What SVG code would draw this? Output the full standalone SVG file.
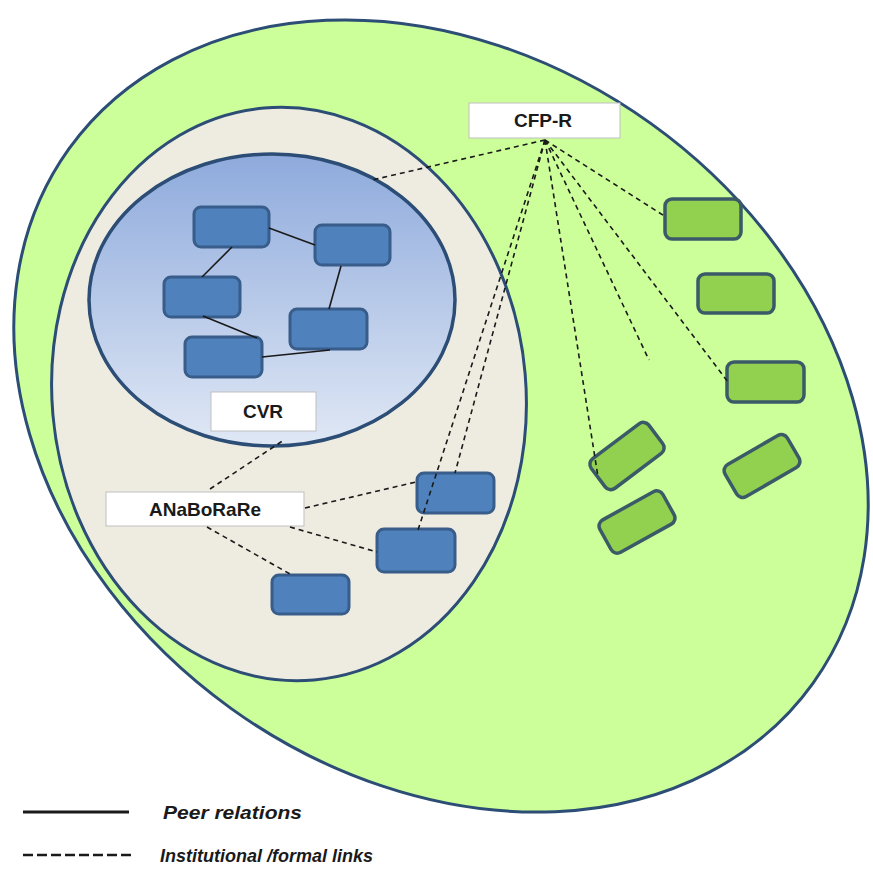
<svg xmlns="http://www.w3.org/2000/svg" width="873" height="876" viewBox="0 0 873 876">
<defs>
<linearGradient id="blueGrad" x1="0" y1="0" x2="0" y2="1">
<stop offset="0" stop-color="#8eaadc"/>
<stop offset="1" stop-color="#e0e8f5"/>
</linearGradient>
<style>
.ring{stroke:#2c4d75;stroke-width:3}
.bnode{fill:#4f81bd;stroke:#385d8a;stroke-width:3}
.gnode{fill:#92d050;stroke:#3b5a68;stroke-width:3.5}
.label{fill:#fff;stroke:#bfbfbf;stroke-width:1}
.lt{font-family:"Liberation Sans",Arial,sans-serif;font-weight:bold;font-size:19px;fill:#1a1a1a;text-anchor:middle}
.peer{stroke:#1a1a1a;stroke-width:1.6;fill:none}
.inst{stroke:#1a1a1a;stroke-width:1.6;stroke-dasharray:5 4;fill:none}
.leg{font-family:"Liberation Sans",Arial,sans-serif;font-style:italic;font-weight:bold;font-size:19px;fill:#1a1a1a}
</style>
</defs>
<rect width="873" height="876" fill="#ffffff"/>
<g id="outer-region">
<ellipse class="ring" cx="441" cy="416" rx="458" ry="360" transform="rotate(35.7 441 416)" fill="#ccff99"/>
</g>
<g id="middle-region">
<ellipse class="ring" cx="289" cy="394" rx="237" ry="287" transform="rotate(-5 289 394)" fill="#eeece1"/>
</g>
<g id="inner-region">
<ellipse cx="272" cy="300" rx="183" ry="146" fill="url(#blueGrad)" stroke="#2c4d75" stroke-width="3.5"/>
</g>
<g id="b1"><rect class="bnode" x="194" y="207" width="75" height="40" rx="7"/></g>
<g id="b2"><rect class="bnode" x="315" y="225" width="75" height="40" rx="7"/></g>
<g id="b3"><rect class="bnode" x="164" y="277" width="76" height="40" rx="7"/></g>
<g id="b4"><rect class="bnode" x="290" y="309" width="77" height="40" rx="7"/></g>
<g id="b5"><rect class="bnode" x="185" y="337" width="77" height="40" rx="7"/></g>
<g id="b6"><rect class="bnode" x="417" y="473" width="77" height="40" rx="7"/></g>
<g id="b7"><rect class="bnode" x="377" y="529" width="78" height="43" rx="7"/></g>
<g id="b8"><rect class="bnode" x="272" y="575" width="77" height="39" rx="7"/></g>
<g id="g1"><rect class="gnode" x="665" y="199" width="76" height="40" rx="7"/></g>
<g id="g2"><rect class="gnode" x="698" y="274" width="76" height="39" rx="7"/></g>
<g id="g3"><rect class="gnode" x="727" y="362" width="77" height="40" rx="7"/></g>
<g id="g4"><rect class="gnode" x="-36" y="-18.5" width="72" height="37" rx="7" transform="translate(627 456) rotate(-37)"/></g>
<g id="g5"><rect class="gnode" x="-36" y="-18.5" width="72" height="37" rx="7" transform="translate(637 522) rotate(-29)"/></g>
<g id="g6"><rect class="gnode" x="-36" y="-18.5" width="72" height="37" rx="7" transform="translate(762 466) rotate(-30)"/></g>
<g id="cvr"><rect class="label" x="211" y="392" width="105" height="39"/><text class="lt" x="263" y="418">CVR</text></g>
<g id="anaborare"><rect class="label" x="106" y="492" width="198" height="34"/><text class="lt" x="205" y="516">ANaBoRaRe</text></g>
<g id="cfp-r"><rect class="label" x="469" y="103" width="151" height="35"/><text class="lt" x="543" y="127">CFP-R</text></g>
<g id="connectors">
<line class="peer" x1="269" y1="228" x2="315" y2="245"/>
<line class="peer" x1="232" y1="247" x2="202" y2="277"/>
<line class="peer" x1="341" y1="266" x2="329" y2="309"/>
<line class="peer" x1="203" y1="316" x2="257" y2="338"/>
<line class="peer" x1="262" y1="357" x2="330" y2="350"/>
<line class="inst" x1="210" y1="489" x2="284" y2="440"/>
<line class="inst" x1="305" y1="508" x2="416" y2="482"/>
<line class="inst" x1="290" y1="527" x2="377" y2="552"/>
<line class="inst" x1="207" y1="527" x2="290" y2="574"/>
<line class="inst" x1="545" y1="140" x2="372" y2="180"/>
<line class="inst" x1="545" y1="140" x2="418" y2="530"/>
<line class="inst" x1="545" y1="140" x2="455" y2="473"/>
<line class="inst" x1="545" y1="140" x2="598" y2="477"/>
<line class="inst" x1="545" y1="140" x2="649" y2="360"/>
<line class="inst" x1="545" y1="140" x2="728" y2="382"/>
<line class="inst" x1="545" y1="140" x2="666" y2="217"/>
</g>
<g id="legend">
<line x1="23" y1="812" x2="129" y2="812" stroke="#1a1a1a" stroke-width="3"/>
<line x1="23" y1="855" x2="132" y2="855" stroke="#1a1a1a" stroke-width="2.5" stroke-dasharray="10 4"/>
<text class="leg" x="163" y="819" textLength="139" lengthAdjust="spacingAndGlyphs">Peer relations</text>
<text class="leg" x="160" y="862" textLength="213" lengthAdjust="spacingAndGlyphs">Institutional /formal links</text>
</g>
</svg>
